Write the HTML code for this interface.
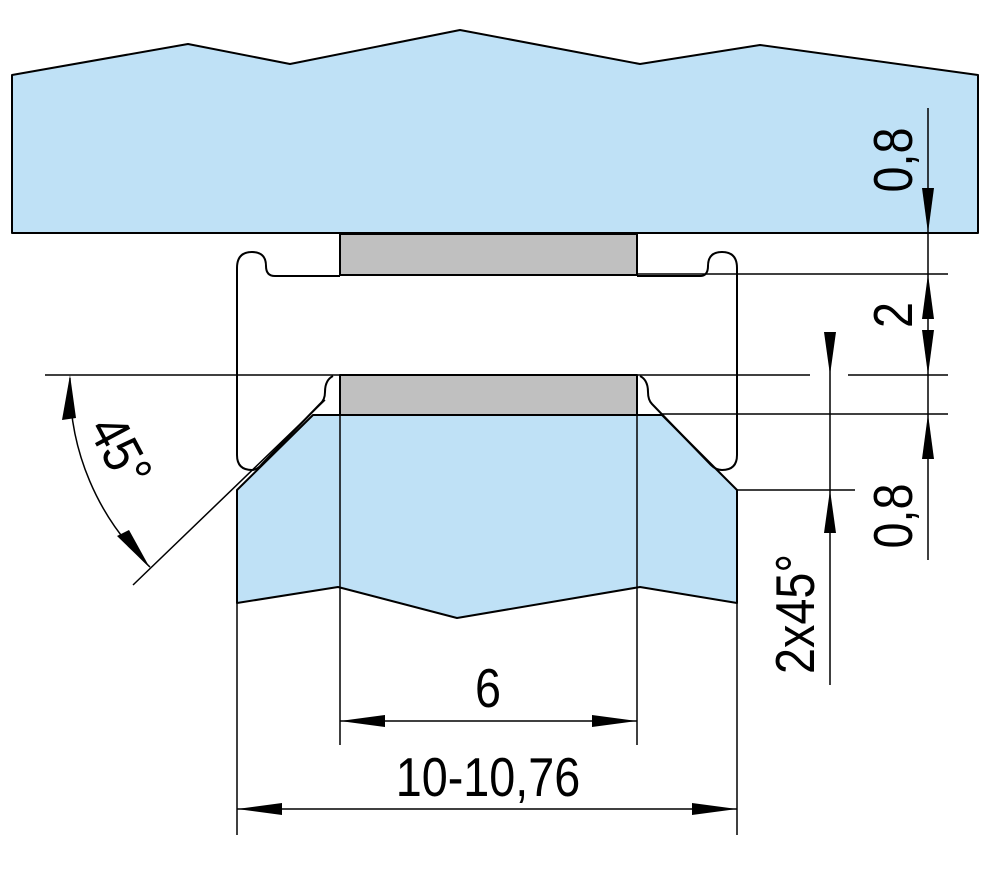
<!DOCTYPE html>
<html><head><meta charset="utf-8"><style>html,body{margin:0;padding:0;background:#fff}svg{display:block}text{font-family:"Liberation Sans",sans-serif;fill:#000}</style></head>
<body>
<svg width="988" height="887" viewBox="0 0 988 887" xmlns="http://www.w3.org/2000/svg">
<g stroke="#000" stroke-width="2" stroke-linejoin="round">
<polygon points="12,75 188,44 290,64 460,30 640,64 760,45 978,75 978,233 12,233" fill="#bfe1f6"/>
<rect x="340" y="234" width="297" height="41" fill="#c0c0c0"/>
<rect x="340" y="375" width="297" height="40" fill="#c0c0c0"/>
<polygon points="313,415 662,415 737,490 737,603 640,587 457,618 338,587 237,603 237,490" fill="#bfe1f6"/>
<path d="M275,276 L340,276 M637,276 L700,276 Q708,276 708,266 Q708,252 722,252 Q737,252 737,268 L737,455 Q737,470 722,470 Q716,470 711,465 L652,404 Q648,400 648,392 Q648,380 640,376 M333,376 Q325,380 325,392 Q325,400 320,404 L262,464 Q257,470 252,470 Q237,470 237,455 L237,268 Q237,252 252,252 Q266,252 266,266 Q266,276 275,276" fill="none"/>
</g>
<g stroke="#000" stroke-width="1.5" fill="none">
<line x1="45" y1="375" x2="810" y2="375"/>
<line x1="848" y1="375" x2="948" y2="375"/>
<line x1="637" y1="274" x2="948" y2="274"/>
<line x1="662" y1="414" x2="948" y2="414"/>
<line x1="737" y1="490" x2="855" y2="490"/>
<line x1="928" y1="108" x2="928" y2="560"/>
<line x1="830" y1="352" x2="830" y2="685"/>
<line x1="133" y1="585" x2="325" y2="400"/>
<path d="M70,378 A250,250 0 0 0 150,567"/>
<line x1="340" y1="415" x2="340" y2="745"/>
<line x1="637" y1="415" x2="637" y2="745"/>
<line x1="237" y1="603" x2="237" y2="835"/>
<line x1="737" y1="603" x2="737" y2="835"/>
<line x1="340" y1="721" x2="637" y2="721"/>
<line x1="237" y1="809" x2="737" y2="809"/>
</g>
<g fill="#000">
<polygon points="928,233 922,188 934,188"/>
<polygon points="928,274 922,319 934,319"/>
<polygon points="928,375 922,330 934,330"/>
<polygon points="928,414 922,459 934,459"/>
<polygon points="830,375 824,332 836,332"/>
<polygon points="830,490 824,533 836,533"/>
<polygon points="70,375 62,420 76,418"/>
<polygon points="150,568 117,536 129,530"/>
<polygon points="340,721 385,715 385,727"/>
<polygon points="637,721 592,715 592,727"/>
<polygon points="237,809 282,803 282,815"/>
<polygon points="737,809 692,803 692,815"/>
</g>
<g font-size="55">
<text transform="translate(912,160) rotate(-90) scale(0.85,1)" text-anchor="middle">0,8</text>
<text transform="translate(912,315) rotate(-90) scale(0.85,1)" text-anchor="middle">2</text>
<text transform="translate(912,516) rotate(-90) scale(0.85,1)" text-anchor="middle">0,8</text>
<text transform="translate(814,614) rotate(-90) scale(0.85,1)" text-anchor="middle">2x45°</text>
<text transform="translate(104,460) rotate(62) scale(0.85,1)" text-anchor="middle">45°</text>
<text transform="translate(488,707) scale(0.85,1)" text-anchor="middle">6</text>
<text transform="translate(488,796) scale(0.85,1)" text-anchor="middle">10-10,76</text>
</g>
</svg>
</body></html>
